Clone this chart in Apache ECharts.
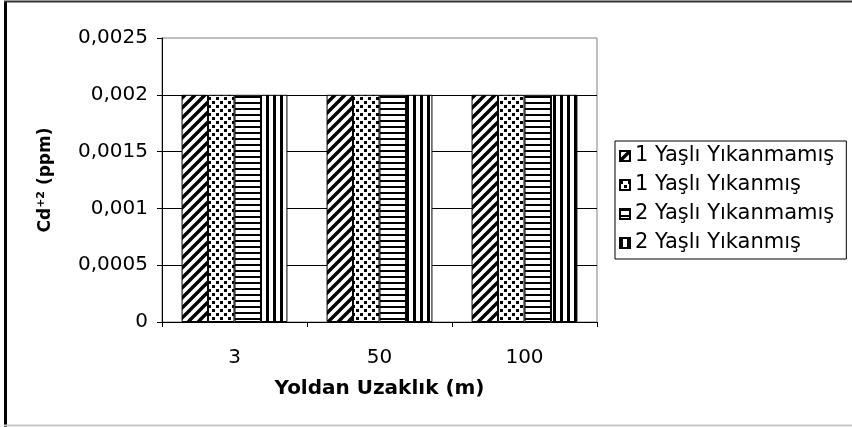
<!DOCTYPE html>
<html>
<head>
<meta charset="utf-8">
<script src="https://cdn.jsdelivr.net/npm/echarts@6/dist/echarts.min.js"></script>
<style>
  html, body { margin: 0; padding: 0; background: #fff; }
  #chart { width: 852px; height: 427px; }
</style>
</head>
<body>
<div id="chart"></div>
<script>
const distances = ['3', '50', '100'];
const seriesNames = ['1 Yaşlı Yıkanmamış', '1 Yaşlı Yıkanmış', '2 Yaşlı Yıkanmamış', '2 Yaşlı Yıkanmış'];
const yas1Yikanmamis = [0.002, 0.002, 0.002];
const yas1Yikanmis = [0.002, 0.002, 0.002];
const yas2Yikanmamis = [0.002, 0.002, 0.002];
const yas2Yikanmis = [0.002, 0.002, 0.002];
const seriesValues = [yas1Yikanmamis, yas1Yikanmis, yas2Yikanmamis, yas2Yikanmis];

const FONT = 'DejaVu Sans';

// little canvas tiles for the black/white fill patterns
function tile(w, h, draw) {
  const c = document.createElement('canvas');
  c.width = w; c.height = h;
  const ctx = c.getContext('2d');
  ctx.fillStyle = '#fff';
  ctx.fillRect(0, 0, w, h);
  ctx.fillStyle = '#000';
  ctx.strokeStyle = '#000';
  draw(ctx);
  return c;
}

const diag = tile(10, 10, ctx => {
  ctx.lineWidth = 3.4;
  ctx.beginPath();
  ctx.moveTo(-1, 11); ctx.lineTo(11, -1);
  ctx.moveTo(-6, 6); ctx.lineTo(6, -6);
  ctx.moveTo(4, 16); ctx.lineTo(16, 4);
  ctx.stroke();
});
const dots = tile(8, 8, ctx => {
  ctx.fillRect(0, 1, 3, 3);
  ctx.fillRect(4, 5, 3, 3);
});
const hstripes = tile(6, 6, ctx => {
  ctx.fillRect(0, 0, 6, 2);
});
const vstripes = tile(7, 7, ctx => {
  ctx.fillRect(0, 0, 3, 7);
});
const patterns = [diag, dots, hstripes, vstripes];

function fmt(v) {
  return String(Number(v.toPrecision(6))).replace('.', ',');
}

const chart = echarts.init(document.getElementById('chart'), null, { renderer: 'canvas' });

chart.setOption({
  backgroundColor: '#ffffff',
  animation: false,
  textStyle: { fontFamily: FONT },
  grid: {
    left: 162, right: 255, top: 38, bottom: 105,
    show: true, borderColor: '#808080', borderWidth: 1
  },
  legend: {
    orient: 'vertical',
    left: 615, top: 141,
    padding: [4, 12, 5, 4],
    itemGap: 7,
    itemWidth: 10, itemHeight: 10,
    borderColor: '#000', borderWidth: 1,
    icon: 'rect',
    textStyle: { fontFamily: FONT, fontSize: 21, lineHeight: 22, color: '#000', padding: [0, 0, 0, 0] },
    data: seriesNames
  },
  xAxis: {
    type: 'category',
    data: distances,
    name: 'Yoldan Uzaklık (m)',
    nameLocation: 'middle',
    nameGap: 57,
    nameTextStyle: { fontFamily: FONT, fontSize: 20, fontWeight: 'bold', color: '#000' },
    axisLine: { lineStyle: { color: '#000', width: 1 } },
    axisTick: { show: true, length: 5, lineStyle: { color: '#000' } },
    axisLabel: { margin: 26, fontFamily: FONT, fontSize: 20, color: '#000' }
  },
  yAxis: {
    type: 'value',
    min: 0, max: 0.0025, interval: 0.0005,
    name: '{b|Cd}{s|+2}{b| (ppm)}',
    nameLocation: 'middle',
    nameGap: 106,
    nameTextStyle: {
      rich: {
        b: { fontFamily: FONT, fontSize: 17, fontWeight: 'bold', color: '#000' },
        s: { fontFamily: FONT, fontSize: 11, fontWeight: 'bold', color: '#000', padding: [0, 0, 9, 0] }
      }
    },
    axisLine: { show: true, lineStyle: { color: '#000', width: 1 } },
    axisTick: { show: true, length: 5, lineStyle: { color: '#000' } },
    axisLabel: { margin: 14, fontFamily: FONT, fontSize: 20, color: '#000', formatter: fmt },
    splitLine: { show: true, showMaxLine: false, lineStyle: { color: '#000', width: 1 } }
  },
  series: seriesNames.map((name, i) => ({
    name: name,
    type: 'bar',
    data: seriesValues[i],
    barGap: '0%',
    barCategoryGap: '27%',
    itemStyle: {
      color: { image: patterns[i], repeat: 'repeat' },
      borderColor: '#000',
      borderWidth: 1
    }
  })),
  graphic: [
    { type: 'line', silent: true, shape: { x1: 5.5, y1: 1, x2: 5.5, y2: 427 }, style: { stroke: '#000', lineWidth: 3 } },
    { type: 'line', silent: true, shape: { x1: 4, y1: 1.5, x2: 852, y2: 1.5 }, style: { stroke: '#333', lineWidth: 2 } },
    { type: 'line', silent: true, shape: { x1: 4, y1: 425.5, x2: 852, y2: 425.5 }, style: { stroke: '#c8c8c8', lineWidth: 2 } }
  ]
});
</script>
</body>
</html>
